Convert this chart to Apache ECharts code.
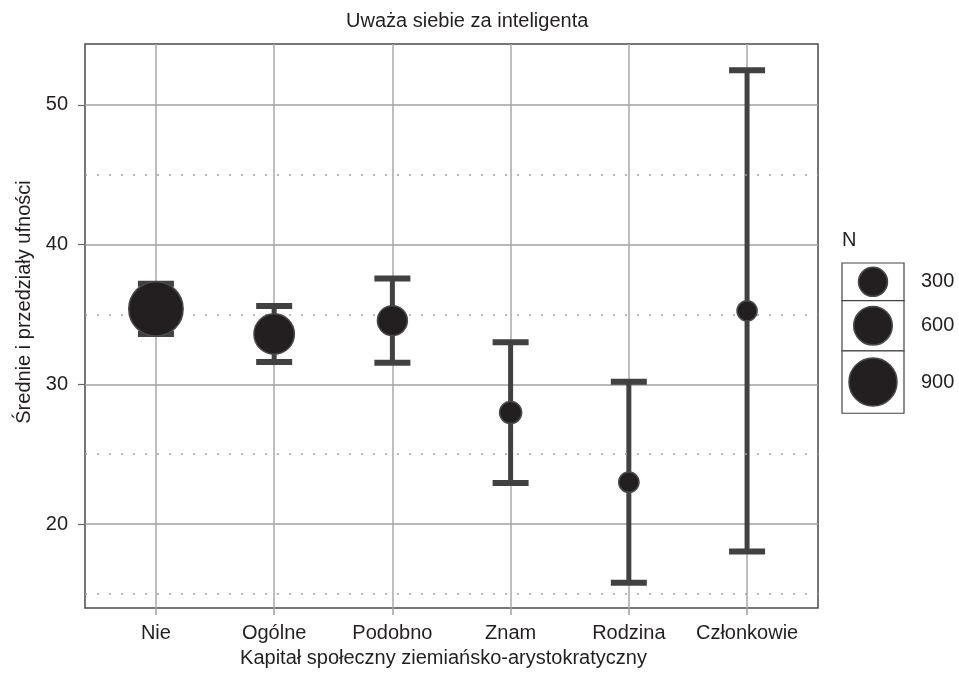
<!DOCTYPE html>
<html><head><meta charset="utf-8">
<script src="https://cdn.jsdelivr.net/npm/echarts@6/dist/echarts.min.js"></script>
<style>html,body{margin:0;padding:0;background:#fff}#c{width:959px;height:674px}</style>
</head><body><div id="c"></div>
<script>
const categories = ['Nie', 'Ogólne', 'Podobno', 'Znam', 'Rodzina', 'Członkowie'];
const means = [35.40, 33.60, 34.56, 27.98, 23.00, 35.26];
const ciLower = [33.60, 31.60, 31.55, 22.94, 15.80, 18.05];
const ciUpper = [37.19, 35.61, 37.57, 33.01, 30.19, 52.48];
const counts = [1100, 660, 330, 80, 25, 20];
const yTicks = [20, 30, 40, 50];
const yMinorLines = [15, 25, 35, 45];
const legendCounts = [300, 600, 900];

const FONT = '"Liberation Sans", Arial, sans-serif';
const FS = 20;
const TXT = '#231f20';
function sizeOf(n) { return 19.5 + 0.0317 * n; }

const catIdx = categories.map((c, i) => i);
const scatterData = categories.map((c, i) => [i, means[i], counts[i]]);
const barData = categories.map((c, i) => [i, ciLower[i], ciUpper[i]]);

// legend graphics
const legendX = 842, legendTop = 263, legendW = 62;
const graphics = [];
graphics.push({type: 'text', x: 842, y: 240, style: {text: 'N', font: FS + 'px ' + FONT, fill: TXT, verticalAlign: 'middle'}});
let ly = legendTop;
legendCounts.forEach(n => {
  const d = sizeOf(n), h = 1.3 * d;
  graphics.push({type: 'rect', shape: {x: legendX, y: ly, width: legendW, height: h}, style: {fill: '#fff', stroke: '#444', lineWidth: 1.2}});
  graphics.push({type: 'circle', shape: {cx: legendX + legendW / 2, cy: ly + h / 2, r: d / 2}, style: {fill: '#231f20', stroke: '#4a4a4a', lineWidth: 1.5}});
  graphics.push({type: 'text', x: 921, y: ly + h / 2, style: {text: String(n), font: FS + 'px ' + FONT, fill: TXT, verticalAlign: 'middle'}});
  ly += h;
});

const chart = echarts.init(document.getElementById('c'), null, {renderer: 'canvas'});
chart.setOption({
  animation: false,
  backgroundColor: '#fff',
  title: {
    text: 'Uważa siebie za inteligenta',
    left: 341, top: 6,
    textStyle: {fontFamily: FONT, fontSize: FS, fontWeight: 'normal', color: TXT}
  },
  grid: {left: 85, right: 141, top: 44, bottom: 66, show: true, borderColor: '#4a4a4a', borderWidth: 1.5, backgroundColor: 'transparent'},
  xAxis: {
    type: 'value', min: -0.6, max: 5.6,
    name: 'Kapitał społeczny ziemiańsko-arystokratyczny',
    nameLocation: 'middle', nameGap: 40,
    nameTextStyle: {fontFamily: FONT, fontSize: FS, color: TXT, padding: [0, 16, 0, 0]},
    axisLine: {show: false, onZero: false},
    axisTick: {show: true, customValues: catIdx, length: 7, lineStyle: {color: '#a0a0a0', width: 1.5}},
    axisLabel: {customValues: catIdx, formatter: v => categories[Math.round(v)], fontFamily: FONT, fontSize: FS, color: TXT, margin: 15},
    splitLine: {show: true, lineStyle: {color: '#a8a8a8', width: 1.5}}
  },
  yAxis: {
    type: 'value', min: 14, max: 54.35,
    name: 'Średnie i przedziały ufności',
    nameLocation: 'middle', nameGap: 50,
    nameTextStyle: {fontFamily: FONT, fontSize: FS, color: TXT, padding: [0, 0, 0, 48]},
    axisLine: {show: false, onZero: false},
    axisTick: {show: true, customValues: yTicks, length: 7, lineStyle: {color: '#666', width: 1.2}},
    axisLabel: {customValues: yTicks, fontFamily: FONT, fontSize: FS, color: TXT, margin: 17},
    splitLine: {show: true, lineStyle: {color: '#a0a0a0', width: 1.5}}
  },
  graphic: graphics,
  series: [
    {
      type: 'line', data: [], silent: true,
      markLine: {
        silent: true, symbol: 'none', label: {show: false},
        lineStyle: {color: '#a0a0a0', type: [2, 10], width: 1.5},
        data: yMinorLines.map(v => ({yAxis: v}))
      }
    },
    {
      type: 'custom', data: barData, z: 3,
      encode: {x: 0, y: [1, 2]},
      renderItem: function (params, api) {
        const x = api.value(0), lo = api.value(1), hi = api.value(2);
        const pLo = api.coord([x, lo]), pHi = api.coord([x, hi]);
        const capW = 36, capH = 6, col = '#414141';
        return {type: 'group', children: [
          {type: 'line', shape: {x1: pLo[0], y1: pLo[1], x2: pHi[0], y2: pHi[1]}, style: {stroke: col, lineWidth: 5}},
          {type: 'rect', shape: {x: pHi[0] - capW / 2, y: pHi[1] - capH / 2, width: capW, height: capH}, style: {fill: col}},
          {type: 'rect', shape: {x: pLo[0] - capW / 2, y: pLo[1] - capH / 2, width: capW, height: capH}, style: {fill: col}}
        ]};
      }
    },
    {
      type: 'scatter', data: scatterData, z: 5,
      symbol: 'circle',
      symbolSize: v => sizeOf(v[2]),
      itemStyle: {color: '#231f20', borderColor: '#4a4a4a', borderWidth: 1.5, opacity: 1}
    }
  ]
});
</script></body></html>
